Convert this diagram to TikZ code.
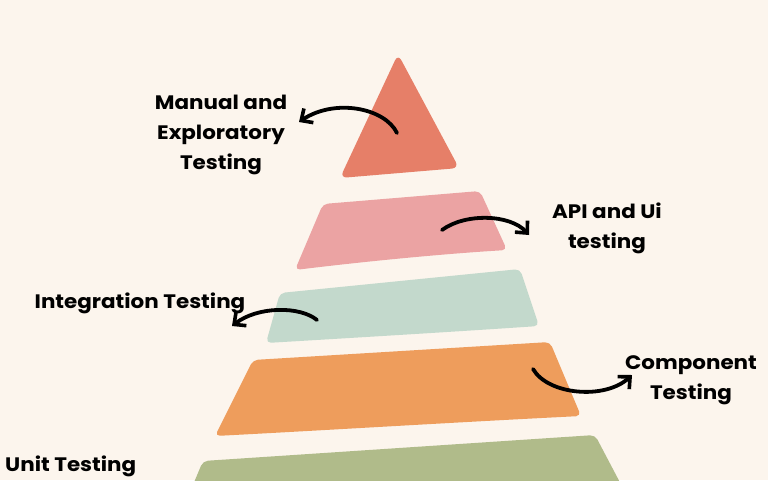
\documentclass[tikz,border=0pt]{standalone}
\usepackage{fontspec}
\setmainfont{Poppins}[FakeStretch=1.1]
\usetikzlibrary{arrows.meta}
\definecolor{bg}{RGB}{252,245,237}
\definecolor{cTop}{RGB}{230,127,104}
\definecolor{cPink}{RGB}{235,163,163}
\definecolor{cMint}{RGB}{195,217,204}
\definecolor{cOrange}{RGB}{238,157,92}
\definecolor{cOlive}{RGB}{176,187,138}
\begin{document}
\begin{tikzpicture}[x=1pt,y=-1pt,
  band/.style={rounded corners=5pt},
  lbl/.style={font=\fontsize{19.5}{30}\selectfont\bfseries, align=center, inner sep=0pt, text=black},
  curl/.style={line width=3.8pt, line cap=round, -{Straight Barb[length=9pt,width=17pt,line width=3.6pt]}}]
\fill[bg] (0,0) rectangle (768,480);
\useasboundingbox (0,0) rectangle (768,480);
% layers
\fill[cTop, rounded corners=7pt] (398,54) -- (459,168) -- (340,178) -- cycle;
\fill[cPink, band] (323,204) -- (480,191) -- (507,250) .. controls (440,254) and (360,262) .. (295,270) -- cycle;
\fill[cMint, band] (280,293) -- (520,269) -- (539,326) .. controls (450,332) and (350,338) .. (266,343) -- cycle;
\fill[cOrange, band] (253,360) -- (550,342) -- (581,416) .. controls (460,422) and (330,430) .. (215,436) -- cycle;
\fill[cOlive, band] (203,461) -- (595,435) -- (625,492) -- (190,492) -- cycle;
% labels
\node[lbl] (manual) at (221,135) {Manual and\\Exploratory\\Testing};
\node[lbl] (api) at (607,228) {API and Ui\\testing};
\node[lbl] (integ) at (140,303) {Integration Testing};
\node[lbl] (comp) at (691,380) {Component\\Testing};
\node[lbl, anchor=west] (unit) at (5,466) {Unit Testing};
% arrow ends
\coordinate (m1) at (397,133); \coordinate (m2) at (299,122);
\coordinate (a1) at (442,230); \coordinate (a2) at (529,235);
\coordinate (i1) at (317,320); \coordinate (i2) at (232,326);
\coordinate (c1) at (533,369); \coordinate (c2) at (632,375);
\draw[curl] (m1) .. controls (385,108) and (335,98) .. (m2);
\draw[curl] (a1) .. controls (465,213) and (510,214) .. (a2);
\draw[curl] (i1) .. controls (300,306) and (258,306) .. (i2);
\draw[curl] (c1) .. controls (548,395) and (605,400) .. (c2);
\end{tikzpicture}
\end{document}
